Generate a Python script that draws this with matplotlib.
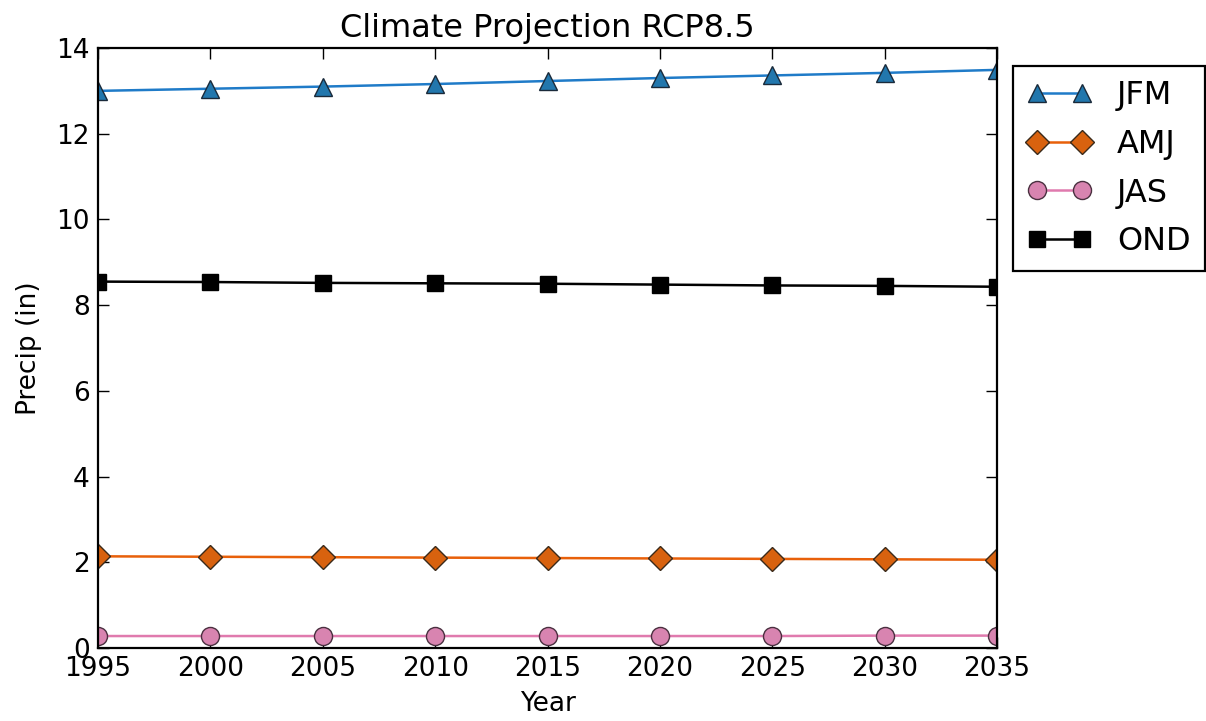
import numpy as np
import matplotlib
matplotlib.use("Agg")
import matplotlib.pyplot as plt

# projected seasonal precipitation, RCP8.5
years = [1995, 2000, 2005, 2010, 2015, 2020, 2025, 2030, 2035]
jfm = [13.00, 13.05, 13.10, 13.16, 13.23, 13.30, 13.36, 13.42, 13.49]
amj = [2.14, 2.13, 2.12, 2.11, 2.10, 2.09, 2.08, 2.07, 2.06]
jas = [0.28, 0.28, 0.28, 0.28, 0.28, 0.28, 0.28, 0.29, 0.29]
ond = [8.55, 8.54, 8.52, 8.51, 8.50, 8.48, 8.46, 8.45, 8.43]

fig = plt.figure(figsize=(12.06, 7.21), dpi=100)
ax = fig.add_axes([0.0813, 0.1012, 0.7454, 0.8322])

ax.plot(years, jfm, color='#1f7bc8', lw=1.8, marker='^', ms=13,
        mfc='#2277ad', mec='#1a2a3a', mew=1, label='JFM')
ax.plot(years, amj, color='#e8600a', lw=1.8, marker='D', ms=12,
        mfc='#d8620f', mec='#3a2a1a', mew=1, label='AMJ')
ax.plot(years, jas, color='#e07aae', lw=1.8, marker='o', ms=13,
        mfc='#d884b0', mec='#4a3040', mew=1, label='JAS')
ax.plot(years, ond, color='black', lw=1.8, marker='s', ms=12,
        mfc='black', mec='black', mew=1, label='OND')

ax.set_xlim(1995, 2035)
ax.set_ylim(0, 14)
ax.set_xticks(np.arange(1995, 2036, 5))
ax.set_yticks(np.arange(0, 15, 2))
ax.tick_params(direction='in', top=True, right=True, length=8, width=1,
               labelsize=19, pad=6)
for s in ax.spines.values():
    s.set_linewidth(1.6)

ax.set_title('Climate Projection RCP8.5', fontsize=23, pad=8)
ax.set_xlabel('Year', fontsize=19, labelpad=6)
ax.set_ylabel('Precip (in)', fontsize=19, labelpad=10)

leg = ax.legend(loc='upper left', bbox_to_anchor=(1.018, 0.97), borderaxespad=0,
                numpoints=2, fontsize=23, fancybox=False, framealpha=1,
                edgecolor='black', handlelength=2.0, borderpad=0.45, labelspacing=0.55,
                handletextpad=0.8)
leg.get_frame().set_linewidth(1.6)

fig.savefig('out.png', dpi=100)
